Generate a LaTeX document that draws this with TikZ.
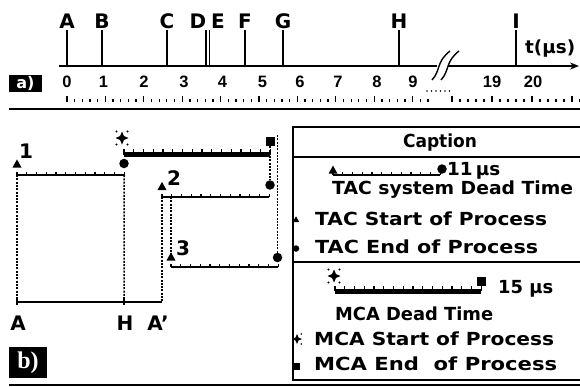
\documentclass[tikz,border=0pt]{standalone}
\usepackage{fontspec}
\usepackage{graphicx}
\setmainfont{DejaVu Sans}
\newfontfamily\digitfont{Liberation Sans}
\newfontfamily\tagfont{Liberation Serif}
\usetikzlibrary{arrows.meta,positioning,calc}
\tikzset{
  axisln/.style={-{Stealth[length=9pt,width=7pt]}, line width=1.6pt},
  eventln/.style={line width=1.4pt},
  rulertick/.style={line width=1.3pt},
  projln/.style={dash pattern=on 2pt off 1.3pt, line width=1.5pt},
  tacln/.style={line width=1.8pt},
  mcaln/.style={line width=5pt},
  combtick/.style={line width=1.2pt},
  sepln/.style={line width=2.4pt},
  boxln/.style={line width=1.6pt},
  evlbl/.style={font=\fontsize{20}{20}\selectfont\bfseries, inner sep=0pt, anchor=base},
  numlbl/.style={font=\digitfont\fontsize{16.5}{16.5}\selectfont\bfseries, inner sep=0pt, anchor=base},
  legtxt/.style={font=\fontsize{18}{18}\selectfont\bfseries, inner sep=0pt, anchor=base west},
  tagbox/.style={fill=black, text=white, inner sep=0pt},
  tacend/.style={circle, fill, inner sep=0pt, minimum size=9.5pt},
  mcaend/.style={rectangle, fill, inner sep=0pt, minimum size=9pt},
}
\newcommand{\tacmark}[3]{% TAC start: filled triangle
  \coordinate (#1) at #2;
  \fill ($(#1)+(0,-#3)$) -- ($(#1)+(#3,0.8*#3)$) -- ($(#1)+(-#3,0.8*#3)$) -- cycle;
}
\newcommand{\mcamark}[3]{% MCA start: four-point star with dots
  \coordinate (#1) at #2;
  \fill ($(#1)+(0,-#3)$) -- ($(#1)+(0.3*#3,-0.3*#3)$) -- ($(#1)+(#3,0)$) -- ($(#1)+(0.3*#3,0.3*#3)$)
     -- ($(#1)+(0,#3)$) -- ($(#1)+(-0.3*#3,0.3*#3)$) -- ($(#1)+(-#3,0)$) -- ($(#1)+(-0.3*#3,-0.3*#3)$) -- cycle;
  \foreach \dx/\dy in {1/1,1/-1,-1/1,-1/-1}
    \fill ($(#1)+(0.85*\dx*#3,1.0*\dy*#3)$) circle (0.16*#3);
}
\newcommand{\comb}[4]{% line with one tick per microsecond
  \draw[#3] (#1) -- ++(#2*9.75,0);
  \foreach \k in {0,...,#2}
    \draw[combtick] ($(#1)+(\k*9.75,0)$) -- ++(0,-#4);
}
\newcommand{\fitto}[2]{\resizebox{#1}{\height}{#2}}

\begin{document}
\begin{tikzpicture}[x=1pt,y=-1pt]
  \useasboundingbox (0,0) rectangle (580,386);
  % ---------- a) time axis ----------
  \coordinate (ax0) at (59,66);
  \coordinate (axbrk) at (437,66);
  \coordinate (axres) at (448,66);
  \coordinate (axend) at (579,66);
  \draw[eventln, line width=1.6pt] (ax0) -- (axbrk);
  \draw[axisln] (axres) -- (axend);
  % break marks
  \draw[eventln] (432,80) .. controls (441,70) and (436,62) .. (450,51);
  \draw[eventln] (441,80) .. controls (450,70) and (445,62) .. (459,51);
  \node[legtxt] (tunit) at (525,53) {\fitto{50pt}{t(μs)}};
  % events A..I
  \foreach \ev/\lx/\tx in {A/67/67,B/102/102,C/167/167,D/198/206,E/218/209.5,F/245/245,G/283/283,H/399/399,I/516/516}{
    \node[evlbl] (ev\ev) at (\lx,28) {\ev};
    \draw[eventln] (\tx,30) -- (\tx,66);
  }
  % ruler numbers
  \foreach \n/\nx in {0/67,1/103.5,2/144,3/184,4/222.5,5/262.5,6/300,7/338,8/377,9/413,19/492,20/533}
    \node[numlbl] (num\n) at (\nx,87) {\n};
  % ruler ticks
  \foreach \k in {0,...,47}{
    \pgfmathsetmacro\th{mod(\k,5)==0 ? 6.5 : 3.5}
    \draw[rulertick] (67+7.68*\k,102) -- ++(0,-\th);
  }
  \foreach \k in {0,...,16}{
    \pgfmathsetmacro\th{mod(\k,5)==0 ? 6.5 : 3.5}
    \draw[rulertick] (452+8*\k,102) -- ++(0,-\th);
  }
  \foreach \k in {0,...,5}
    \fill (427+4.5*\k,91) circle (0.8pt);
  \node[tagbox, minimum width=33pt, minimum height=17pt, font=\fontsize{16}{16}\selectfont\bfseries] (taga) at (25.5,83.5) {a)};
  \draw[sepln] (9,109) -- (580,109);

  % ---------- b) dead times ----------
  % process 1
  \tacmark{s1}{(17,164)}{4.6}
  \node[evlbl] (lbl1) at (26,158) {1};
  \coordinate (c1) at (17,175);
  \coordinate (c1e) at ($(c1)+(11*9.75,0)$);
  \comb{c1}{11}{tacln}{3.5}
  \node[tacend] (e1) at (124,163.5) {};
  % MCA dead time
  \mcamark{ms}{(122,138)}{6.5}
  \coordinate (cm) at (124,154.5);
  \comb{cm}{15}{mcaln}{6}
  \node[mcaend] (me) at (270,141.5) {};
  % process 2
  \tacmark{s2}{(162,186.5)}{4.6}
  \node[evlbl] (lbl2) at (174,185) {2};
  \coordinate (c2) at (162,197);
  \comb{c2}{11}{tacln}{3.5}
  \node[tacend] (e2) at (270,185) {};
  % process 3
  \tacmark{s3}{(171,257)}{4.6}
  \node[evlbl] (lbl3) at (183,255) {3};
  \coordinate (c3) at (171,267);
  \comb{c3}{11}{tacln}{3.5}
  \node[tacend] (e3) at (277.5,257.5) {};
  \coordinate (top3) at (277.5,135);
  % projections
  \coordinate (ptA) at (17,302);
  \coordinate (ptH) at (124,302);
  \coordinate (ptAp) at (162,302);
  \draw[projln] (c1) -- (ptA);
  \draw[projln] (c1e) -- (ptH);
  \draw[projln] (me.south) -- (e2.north);
  \draw[projln] (c2) -- (ptAp);
  \draw[projln] (c2 -| s3) -- (s3);
  \draw[projln] (top3) -- (e3.north);
  % A -- A'
  \draw[line width=2.6pt] (ptA) -- (ptAp);
  \draw[eventln] ($(ptA)+(0,-5)$) -- ($(ptA)+(0,3)$);
  \draw[eventln] ($(ptH)+(0,-5)$) -- ($(ptH)+(0,3)$);
  \node[evlbl] (lblA) at (18,330) {A};
  \node[evlbl] (lblH) at (125,330) {H};
  \node[evlbl] (lblAp) at (158,330) {A\symbol{39}};
  \node[tagbox, minimum width=38pt, minimum height=31pt, font=\tagfont\fontsize{24}{24}\selectfont\bfseries] (tagb) at (28,362.5) {b)};
  \draw[sepln] (9,385) -- (580,385);

  % ---------- caption ----------
  \draw[boxln] (582,127) -- (293,127) -- (293,380) -- (582,380);
  \draw[boxln] (293,157) -- (582,157);
  \draw[boxln] (293,262) -- (582,262);
  \node[legtxt, anchor=base] (cap) at (440,147) {\fitto{74pt}{Caption}};
  % TAC legend
  \tacmark{ls}{(333,170)}{4.4}
  \coordinate (lc) at (333,175);
  \comb{lc}{11}{tacln}{3}
  \node[tacend] (le) at (442,169) {};
  \node[legtxt] (t11) at (447,175) {\fitto{53pt}{11\,μs}};
  \node[legtxt] (tacdt) at (332,194) {\fitto{241pt}{TAC system Dead Time}};
  \tacmark{bts}{(296,219.5)}{3.2}
  \node[legtxt] (tacs) at (315,225) {\fitto{232pt}{TAC Start of Process}};
  \node[tacend, minimum size=6.5pt] (bte) at (296,248.5) {};
  \node[legtxt] (tace) at (315,253) {\fitto{223pt}{TAC End of Process}};
  % MCA legend
  \mcamark{lms}{(334,276)}{6.5}
  \coordinate (lcm) at (335,291);
  \comb{lcm}{15}{mcaln}{5.5}
  \node[mcaend] (lme) at (481,281) {};
  \node[legtxt] (t15) at (498,293) {\fitto{55pt}{15 μs}};
  \node[legtxt] (mcadt) at (335,320) {\fitto{158pt}{MCA Dead Time}};
  \mcamark{bms}{(297,339)}{5}
  \node[legtxt] (mcas) at (314,345) {\fitto{240pt}{MCA Start of Process}};
  \node[mcaend, minimum size=7pt] (bme) at (296,366.5) {};
  \node[legtxt] (mcae) at (314,370) {\fitto{243pt}{MCA End\ \ of Process}};
\end{tikzpicture}
\end{document}
